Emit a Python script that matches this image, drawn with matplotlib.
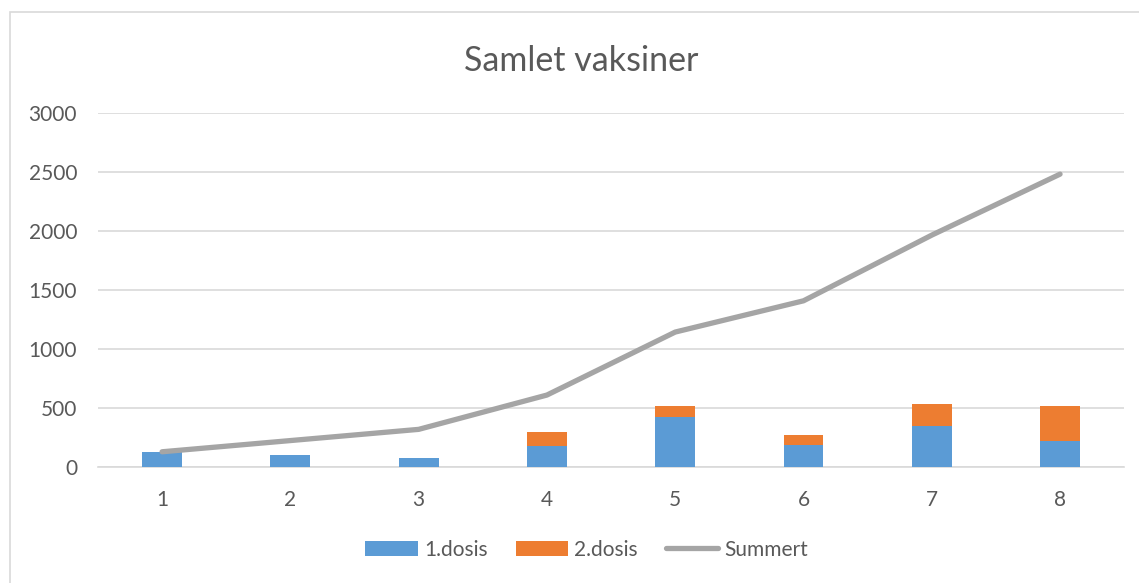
import numpy as np
import matplotlib
matplotlib.use("Agg")
import matplotlib.pyplot as plt
from matplotlib.patches import Rectangle

# Data
uker = ["1", "2", "3", "4", "5", "6", "7", "8"]
dosis_1 = [120, 95, 75, 176, 421, 181, 345, 214]
dosis_2 = [0, 0, 0, 119, 93, 90, 183, 300]
summert = [125, 220, 315, 606, 1140, 1405, 1962, 2479]

plt.rcParams['font.family'] = ['Lato', 'DejaVu Sans']

tekst = "#595959"
grid = "#d9d9d9"

fig = plt.figure(figsize=(11.39, 5.83), dpi=100)
ax = fig.add_axes([0.086, 0.1998, 0.901, 0.6069])

x = np.arange(len(uker))
b1 = ax.bar(x, dosis_1, width=0.31, color="#5B9BD5", label="1.dosis", zorder=3)
b2 = ax.bar(x, dosis_2, width=0.31, bottom=dosis_1, color="#ED7D31", label="2.dosis", zorder=3)
l1, = ax.plot(x, summert, color="#A5A5A5", linewidth=3.8, solid_capstyle="round", label="Summert", zorder=4)

ax.set_xlim(-0.5, len(uker) - 0.5)
ax.set_ylim(0, 3000)
ax.set_yticks(np.arange(0, 3001, 500))
ax.set_xticks(x)
ax.set_xticklabels(uker)
ax.tick_params(length=0, labelsize=15, colors=tekst)
ax.tick_params(axis="x", pad=17)
ax.tick_params(axis="y", pad=15)
ax.grid(axis="y", color=grid, linewidth=1.2, zorder=0)
for s in ["top", "right", "left"]:
    ax.spines[s].set_visible(False)
ax.spines["bottom"].set_color(grid)
ax.spines["bottom"].set_linewidth(1.2)

fig.text(0.51, 0.895, "Samlet vaksiner", ha="center", va="center", fontsize=24.5, color=tekst)

fig.legend(handles=[b1, b2, l1], loc="center", bbox_to_anchor=(0.515, 0.057), ncol=3,
           frameon=False, fontsize=15, labelcolor=tekst, handlelength=2.5,
           handleheight=0.75, columnspacing=1.35, handletextpad=0.3)

# chart border
fig.patches.append(Rectangle((10 / 1139, -0.01), 1.0, 1 - 12 / 583 + 0.01,
                             transform=fig.transFigure, fill=False,
                             edgecolor=grid, linewidth=1.2))

fig.savefig("out.png", dpi=100)
